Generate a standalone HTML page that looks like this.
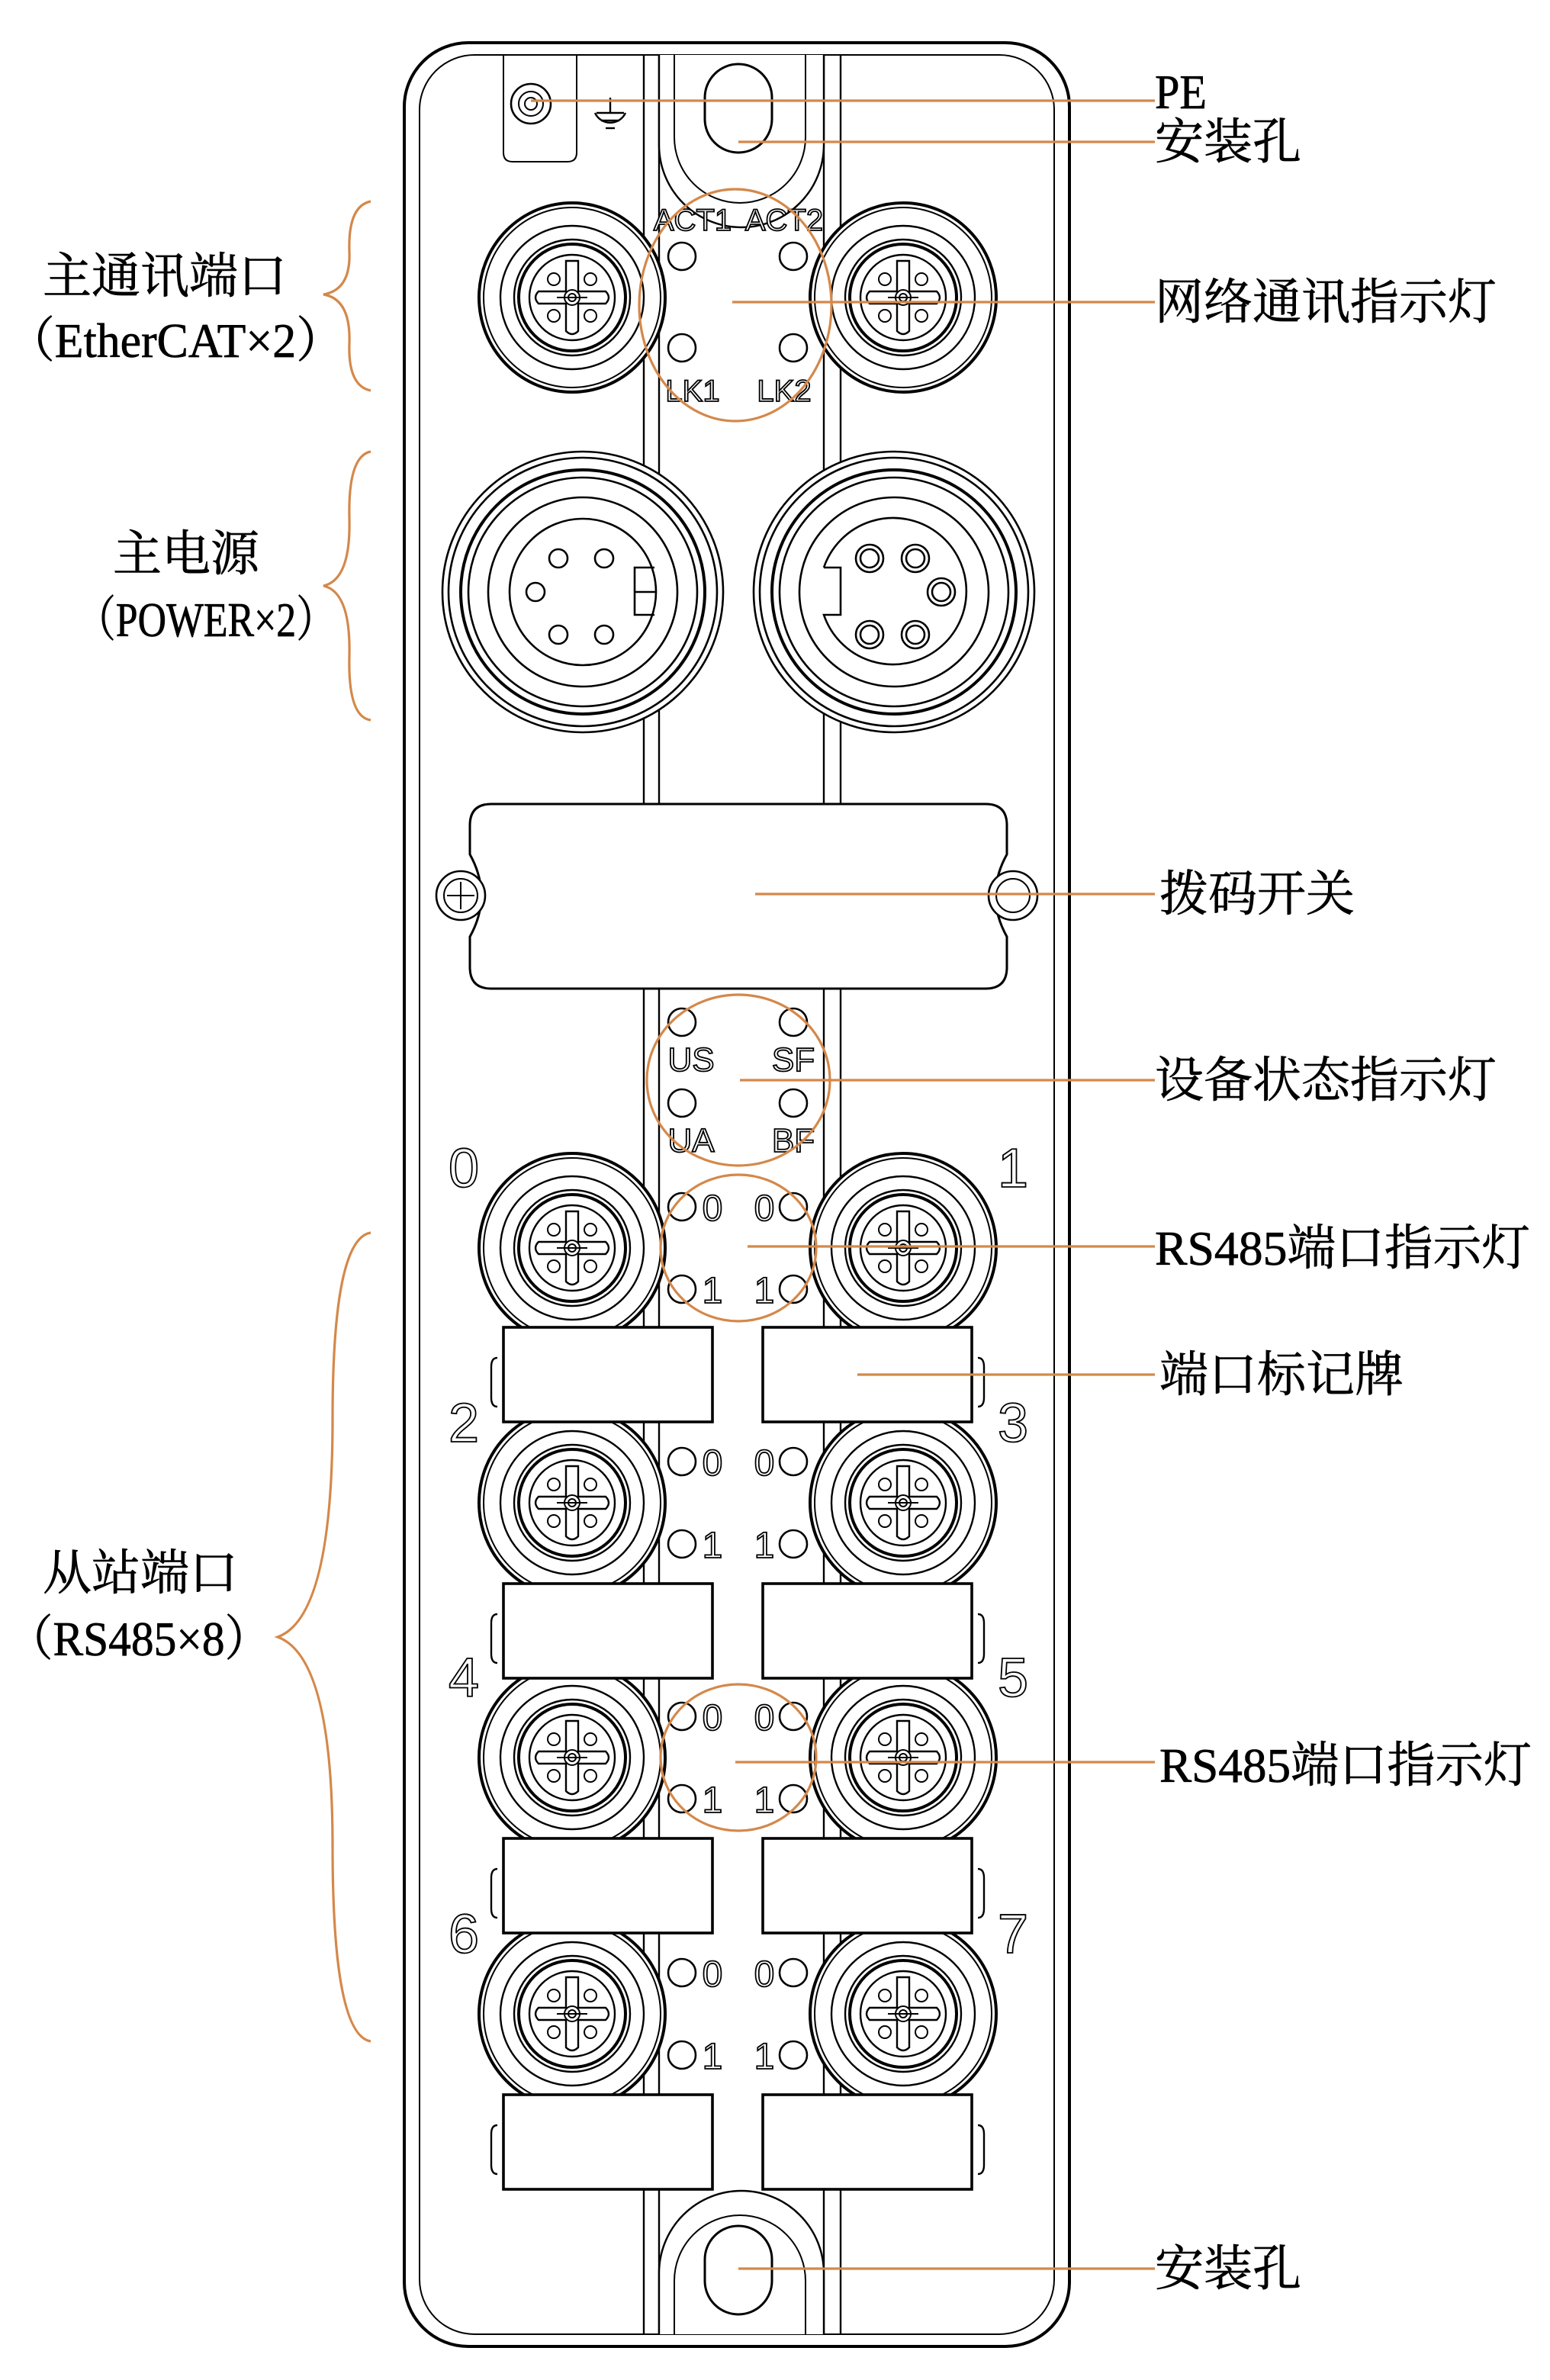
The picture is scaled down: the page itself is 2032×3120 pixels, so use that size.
<!DOCTYPE html>
<html><head><meta charset="utf-8"><style>
html,body{margin:0;padding:0;background:#fff}
svg{display:block}
.t{font-family:"Liberation Serif","Noto Serif CJK SC",serif;font-size:32px;fill:#000;stroke:#000;stroke-width:0.35}
.o{font-family:"Liberation Sans",sans-serif;fill:#fff;stroke:#000;stroke-width:0.9}
</style></head><body>
<svg width="2032" height="3120" viewBox="0 0 1016 1560" xmlns="http://www.w3.org/2000/svg">
<defs>
<g id="m8">
<ellipse cx="0" cy="0" rx="61" ry="62" fill="#fff" stroke="#000" stroke-width="2"/>
<ellipse cx="0" cy="0" rx="58" ry="59" fill="none" stroke="#000" stroke-width="1"/>
<circle r="47" fill="none" stroke="#000" stroke-width="1.2"/>
<circle r="38" fill="none" stroke="#000" stroke-width="1.2"/>
<circle r="35" fill="none" stroke="#000" stroke-width="2"/>
<circle r="28" fill="none" stroke="#000" stroke-width="1.2"/>
<path d="M-4,-24 L4,-24 L4,-4 L22,-4 Q26,0 22,4 L4,4 L4,22 Q0,26 -4,22 L-4,4 L-22,4 Q-26,0 -22,-4 L-4,-4 Z" fill="none" stroke="#000" stroke-width="1.2"/>
<circle cx="-12" cy="-12" r="4" fill="none" stroke="#000"/><circle cx="12" cy="-12" r="4" fill="none" stroke="#000"/>
<circle cx="-12" cy="12" r="4" fill="none" stroke="#000"/><circle cx="12" cy="12" r="4" fill="none" stroke="#000"/>
<circle r="5" fill="none" stroke="#000"/><circle r="2.5" fill="none" stroke="#000"/>
<line x1="-10" y1="0" x2="10" y2="0" stroke="#000"/>
</g>
<g id="led"><circle r="9" fill="#fff" stroke="#000" stroke-width="1.3"/></g>
<g id="plate">
<path d="M-4,20 Q-8,20 -8,26 L-8,46 Q-8,52 -4,52" fill="none" stroke="#000" stroke-width="1.2"/>
<rect x="0" y="0" width="137" height="62" fill="#fff" stroke="#000" stroke-width="1.8"/>
</g>
</defs>

<rect x="265" y="28" width="436" height="1510" rx="42" fill="#fff" stroke="#000" stroke-width="2"/>
<rect x="275" y="36" width="416" height="1494" rx="36" fill="none" stroke="#000" stroke-width="1"/>
<line x1="422" y1="36" x2="422" y2="1530" stroke="#000" stroke-width="1.2"/>
<line x1="432" y1="36" x2="432" y2="1530" stroke="#000" stroke-width="1.2"/>
<line x1="540" y1="36" x2="540" y2="1530" stroke="#000" stroke-width="1.2"/>
<line x1="551" y1="36" x2="551" y2="1530" stroke="#000" stroke-width="1.2"/>
<line x1="330" y1="36" x2="330" y2="100" stroke="#000"/><line x1="378" y1="36" x2="378" y2="100" stroke="#000"/>
<path d="M330,100 Q330,106 336,106 L372,106 Q378,106 378,100" fill="none" stroke="#000"/>

<path d="M432,36 L432,95 A53,53 0 0 0 540,95 L540,36" fill="#fff" stroke="#000" stroke-width="1.2"/>
<path d="M442,36 L442,90 A43,43 0 0 0 528,90 L528,36" fill="none" stroke="#000" stroke-width="1"/>
<rect x="462" y="42" width="44" height="58" rx="22" fill="none" stroke="#000" stroke-width="1.5"/>
<path d="M432,1530 L432,1490 A53,53 0 0 1 540,1490 L540,1530" fill="#fff" stroke="#000" stroke-width="1.2"/>
<path d="M442,1530 L442,1495 A43,43 0 0 1 528,1495 L528,1530" fill="none" stroke="#000" stroke-width="1"/>
<rect x="462" y="1459" width="44" height="58" rx="22" fill="none" stroke="#000" stroke-width="1.5"/>

<circle cx="348" cy="68" r="13" fill="#fff" stroke="#000" stroke-width="1.3"/>
<circle cx="348" cy="68" r="8" fill="none" stroke="#000"/><circle cx="348" cy="68" r="4" fill="none" stroke="#000"/>
<g stroke="#000" stroke-width="1.2" fill="none"><line x1="400" y1="64" x2="400" y2="74"/><line x1="391" y1="74" x2="409" y2="74"/><line x1="394" y1="79" x2="406" y2="79"/><line x1="397" y1="84" x2="403" y2="84"/><path d="M390,74 A11,11 0 0 0 410,74"/></g>

<use href="#m8" x="375" y="195"/>
<use href="#m8" x="592" y="195"/>
<use href="#led" x="447" y="168"/><use href="#led" x="520" y="168"/>
<use href="#led" x="447" y="228"/><use href="#led" x="520" y="228"/>
<g class="o" font-size="20" text-anchor="middle"><text x="454" y="151">ACT1</text><text x="514" y="151">ACT2</text><text x="454" y="263">LK1</text><text x="514" y="263">LK2</text></g>

<g fill="none" stroke="#000" stroke-width="1.3">
<circle cx="382" cy="388" r="92" fill="#fff"/><circle cx="382" cy="388" r="88"/><circle cx="382" cy="388" r="80" stroke-width="2"/>
<circle cx="382" cy="388" r="75"/><circle cx="382" cy="388" r="62"/><circle cx="382" cy="388" r="48"/>
<circle cx="366" cy="366" r="6"/><circle cx="396" cy="366" r="6"/><circle cx="351" cy="388" r="6"/><circle cx="366" cy="416" r="6"/><circle cx="396" cy="416" r="6"/>
<path d="M429,372 L416,372 L416,403 L429,403 M416,388 L430,388"/>
<circle cx="586" cy="388" r="92" fill="#fff"/><circle cx="586" cy="388" r="88"/><circle cx="586" cy="388" r="80" stroke-width="2"/>
<circle cx="586" cy="388" r="75"/><circle cx="586" cy="388" r="62"/>
<path d="M540,372 L551,372 L551,403 L540,403 A48,48 0 1 0 540,372"/>
<circle cx="570" cy="366" r="9"/><circle cx="570" cy="366" r="6"/><circle cx="600" cy="366" r="9"/><circle cx="600" cy="366" r="6"/>
<circle cx="617" cy="388" r="9"/><circle cx="617" cy="388" r="6"/>
<circle cx="570" cy="416" r="9"/><circle cx="570" cy="416" r="6"/><circle cx="600" cy="416" r="9"/><circle cx="600" cy="416" r="6"/>
</g>

<path d="M322,527 L646,527 Q660,527 660,541 L660,560 Q645,587 660,614 L660,634 Q660,648 646,648 L322,648 Q308,648 308,634 L308,614 Q323,587 308,560 L308,541 Q308,527 322,527 Z" fill="#fff" stroke="#000" stroke-width="1.5"/>
<circle cx="302" cy="587" r="16" fill="#fff" stroke="#000" stroke-width="1.3"/><circle cx="302" cy="587" r="11" fill="none" stroke="#000"/>
<line x1="293" y1="587" x2="311" y2="587" stroke="#000"/><line x1="302" y1="578" x2="302" y2="596" stroke="#000"/>
<circle cx="664" cy="587" r="16" fill="#fff" stroke="#000" stroke-width="1.3"/><circle cx="664" cy="587" r="11" fill="none" stroke="#000"/>

<use href="#led" x="447" y="670"/><use href="#led" x="520" y="670"/>
<use href="#led" x="447" y="723"/><use href="#led" x="520" y="723"/>
<g class="o" font-size="22" text-anchor="middle"><text x="453" y="702">US</text><text x="520" y="702">SF</text><text x="453" y="755">UA</text><text x="520" y="755">BF</text></g>

<use href="#m8" x="375" y="818"/><use href="#m8" x="592" y="818"/>
<use href="#m8" x="375" y="985"/><use href="#m8" x="592" y="985"/>
<use href="#m8" x="375" y="1152"/><use href="#m8" x="592" y="1152"/>
<use href="#m8" x="375" y="1320"/><use href="#m8" x="592" y="1320"/>
<g>
<use href="#led" x="447" y="791"/><use href="#led" x="520" y="791"/><use href="#led" x="447" y="845"/><use href="#led" x="520" y="845"/>
<use href="#led" x="447" y="958"/><use href="#led" x="520" y="958"/><use href="#led" x="447" y="1012"/><use href="#led" x="520" y="1012"/>
<use href="#led" x="447" y="1125"/><use href="#led" x="520" y="1125"/><use href="#led" x="447" y="1179"/><use href="#led" x="520" y="1179"/>
<use href="#led" x="447" y="1293"/><use href="#led" x="520" y="1293"/><use href="#led" x="447" y="1347"/><use href="#led" x="520" y="1347"/>
</g>
<g class="o" font-size="24" text-anchor="middle">
<text x="467" y="800">0</text><text x="501" y="800">0</text><text x="467" y="854">1</text><text x="501" y="854">1</text>
<text x="467" y="967">0</text><text x="501" y="967">0</text><text x="467" y="1021">1</text><text x="501" y="1021">1</text>
<text x="467" y="1134">0</text><text x="501" y="1134">0</text><text x="467" y="1188">1</text><text x="501" y="1188">1</text>
<text x="467" y="1302">0</text><text x="501" y="1302">0</text><text x="467" y="1356">1</text><text x="501" y="1356">1</text>
</g>
<g class="o" font-size="36" text-anchor="middle">
<text x="304" y="778">0</text><text x="664" y="778">1</text>
<text x="304" y="945">2</text><text x="664" y="945">3</text>
<text x="304" y="1112">4</text><text x="664" y="1112">5</text>
<text x="304" y="1280">6</text><text x="664" y="1280">7</text>
</g>
<use href="#plate" x="330" y="870"/><use href="#plate" x="500" y="870" transform="translate(1137,0) scale(-1,1)"/>
<use href="#plate" x="330" y="1038"/><use href="#plate" x="500" y="1038" transform="translate(1137,0) scale(-1,1)"/>
<use href="#plate" x="330" y="1205"/><use href="#plate" x="500" y="1205" transform="translate(1137,0) scale(-1,1)"/>
<use href="#plate" x="330" y="1373"/><use href="#plate" x="500" y="1373" transform="translate(1137,0) scale(-1,1)"/>

<g stroke="#d4884a" stroke-width="1.6" fill="none">
<ellipse cx="482" cy="200" rx="63" ry="76"/>
<ellipse cx="484" cy="708" rx="60" ry="56"/>
<ellipse cx="484" cy="818" rx="51" ry="48"/>
<ellipse cx="484" cy="1152" rx="51" ry="48"/>
<line x1="348" y1="66" x2="757" y2="66"/>
<line x1="484" y1="93" x2="757" y2="93"/>
<line x1="480" y1="198" x2="757" y2="198"/>
<line x1="495" y1="586" x2="757" y2="586"/>
<line x1="485" y1="708" x2="757" y2="708"/>
<line x1="490" y1="817" x2="757" y2="817"/>
<line x1="562" y1="901" x2="757" y2="901"/>
<line x1="482" y1="1155" x2="757" y2="1155"/>
<line x1="484" y1="1487" x2="757" y2="1487"/>
<path d="M243,132 Q228,135 229,165 Q230,190 212,193 Q230,196 229,225 Q228,253 243,256"/>
<path d="M243,296 Q228,299 229,340 Q230,380 212,384 Q230,388 229,430 Q228,470 243,472"/>
<path d="M243,808 Q218,812 218,930 Q218,1060 182,1073 Q218,1086 218,1210 Q218,1334 243,1338"/>
</g>

<g class="t">
<text x="757" y="71" textLength="34" lengthAdjust="spacingAndGlyphs">PE</text>
<text x="757" y="104">安装孔</text>
<text x="757" y="209">网络通讯指示灯</text>
<text x="760" y="597">拨码开关</text>
<text x="757" y="719">设备状态指示灯</text>
<text x="757" y="829" textLength="246" lengthAdjust="spacingAndGlyphs">RS485端口指示灯</text>
<text x="760" y="912">端口标记牌</text>
<text x="760" y="1168" textLength="244" lengthAdjust="spacingAndGlyphs">RS485端口指示灯</text>
<text x="757" y="1498">安装孔</text>
<text x="28" y="192">主通讯端口</text>
<text x="5" y="234" textLength="220" lengthAdjust="spacingAndGlyphs">（EtherCAT×2）</text>
<text x="74" y="374">主电源</text>
<text x="50" y="417" textLength="170" lengthAdjust="spacingAndGlyphs">（POWER×2）</text>
<text x="28" y="1042">从站端口</text>
<text x="5" y="1085" textLength="172" lengthAdjust="spacingAndGlyphs">（RS485×8）</text>
</g>
</svg>
</body></html>
